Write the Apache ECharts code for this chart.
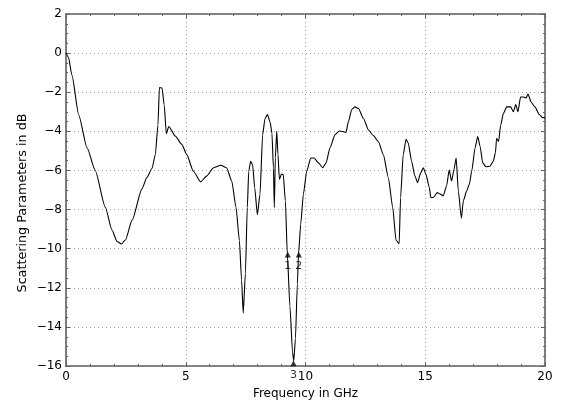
<!DOCTYPE html>
<html>
<head>
<meta charset="utf-8">
<script src="https://cdn.jsdelivr.net/npm/echarts@6/dist/echarts.min.js"></script>
<style>
html,body{margin:0;padding:0;background:#fff;}
#chart{width:561px;height:405px;}
</style>
</head>
<body>
<div id="chart"></div>
<script>
// Frequency (GHz) samples and scattering parameter (dB) values
var freqGHz = [0.0,0.1,0.25,0.53,0.88,1.22,1.64,1.92,2.13,2.31,2.48,2.76,3.17,3.38,3.59,3.73,3.84,3.9,4.01,4.1,4.19,4.29,4.57,4.84,
  5.04,5.32,5.62,5.87,6.15,6.46,6.71,6.92,7.1,7.24,7.33,7.4,7.49,7.57,7.63,7.71,7.79,7.88,7.99,8.1,8.21,8.31,8.41,8.52,8.6,8.66,8.7,8.74,8.8,8.85,8.91,8.99,9.07,9.16,9.24,9.35,9.46,9.51,9.58,9.66,9.71,9.8,9.91,10.05,
  10.22,10.36,10.54,10.72,10.86,11.02,11.23,11.41,11.55,11.69,11.79,11.93,12.07,12.21,12.42,12.63,12.83,13.04,13.25,13.46,13.64,13.78,13.91,13.97,14.08,14.2,14.29,14.43,14.57,14.68,14.81,14.92,15.03,15.17,
  15.23,15.34,15.5,15.64,15.75,15.89,16.0,16.1,16.2,16.29,16.38,16.51,16.59,16.73,16.84,16.94,17.08,17.19,17.29,17.4,17.54,17.7,17.84,17.93,17.98,18.06,18.15,18.26,18.4,18.57,18.68,18.78,18.87,18.98,19.1,19.21,19.29,19.42,19.58,19.76,19.9,20.0];
var sParamDB = [0.0,-0.2,-1.14,-3.16,-4.84,-6.0,-7.87,-9.04,-9.63,-9.76,-9.55,-8.54,-6.94,-6.35,-5.9,-5.18,-3.66,-1.76,-1.78,-2.66,-4.13,-3.75,-4.25,-4.67,
  -5.19,-6.04,-6.58,-6.29,-5.87,-5.73,-5.87,-6.54,-7.89,-9.58,-11.6,-13.29,-11.27,-7.89,-6.04,-5.53,-5.7,-6.88,-8.26,-7.22,-4.18,-3.34,-3.14,-3.51,-4.1,-5.87,-7.89,-5.36,-3.98,-5.19,-6.46,-6.2,-6.2,-7.55,-10.25,-12.95,-15.3,-15.73,-14.6,-11.8,-10.25,-8.74,-7.22,-6.04,
  -5.36,-5.36,-5.61,-5.86,-5.61,-4.85,-4.18,-3.98,-4.01,-4.05,-3.51,-2.88,-2.75,-2.83,-3.34,-3.93,-4.21,-4.52,-5.19,-6.37,-7.88,-9.57,-9.74,-7.38,-5.19,-4.4,-4.6,-5.53,-6.29,-6.62,-6.12,-5.86,-6.2,-6.87,
  -7.38,-7.38,-7.13,-7.21,-7.3,-6.79,-5.98,-6.54,-5.95,-5.36,-7.04,-8.44,-7.55,-7.04,-6.71,-6.03,-4.85,-4.26,-4.77,-5.61,-5.81,-5.78,-5.53,-5.1,-4.35,-4.52,-3.68,-3.09,-2.75,-2.75,-3.0,-2.63,-3.0,-2.24,-2.24,-2.29,-2.09,-2.5,-2.75,-3.14,-3.3,-3.3];

// Marker positions and labels
var markerFreq = [9.26, 9.72, 9.5];
var markerDB = [-10.3, -10.3, -15.85];
var markerLabels = ['1', '2', '3'];

// Axis settings and titles
var xMin = 0, xMax = 20, xStep = 5;
var yMin = -16, yMax = 2, yStep = 2;
var xTitle = 'Frequency in GHz';
var yTitle = 'Scattering Parameters in dB';

var lineData = freqGHz.map(function (f, i) { return [f, sParamDB[i]]; });
var markerData = markerFreq.map(function (f, i) { return { value: [f, markerDB[i]], name: markerLabels[i] }; });

function minusFmt(v) { return String(v).replace('-', '\u2212'); }

var FONT = 'DejaVu Sans';
var frameColor = '#606060';
var gridLine = { show: true, lineStyle: { color: '#a0a0a0', type: [1, 3], width: 1 } };

function baseAxis(extra) {
  var a = {
    type: 'value',
    axisLine: { show: true, onZero: false, lineStyle: { color: frameColor, width: 1.6 } },
    axisTick: { show: true, inside: true, length: 4, lineStyle: { color: frameColor, width: 1 } },
    minorTick: { show: true, length: 2, lineStyle: { color: frameColor, width: 1 } },
    splitLine: { show: false }
  };
  for (var k in extra) a[k] = extra[k];
  return a;
}

var chart = echarts.init(document.getElementById('chart'), null, { renderer: 'canvas' });
chart.setOption({
  animation: false,
  backgroundColor: '#ffffff',
  grid: { left: 66, right: 16, top: 14, bottom: 34, containLabel: false },
  graphic: [{
    type: 'text',
    x: 23, y: 203,
    rotation: Math.PI / 2,
    scaleX: 1.06,
    style: {
      text: yTitle, fill: '#000', font: '12px "DejaVu Sans"',
      align: 'center', verticalAlign: 'middle'
    }
  }],
  xAxis: [
    baseAxis({
      position: 'bottom', min: xMin, max: xMax, interval: xStep,
      minorTick: { show: true, splitNumber: 5, length: 2, lineStyle: { color: frameColor, width: 1 } },
      splitLine: gridLine,
      axisLabel: { color: '#000', fontFamily: FONT, fontSize: 12, margin: 5, formatter: minusFmt },
      name: xTitle, nameLocation: 'middle', nameGap: 20,
      nameTextStyle: { color: '#000', fontFamily: FONT, fontSize: 12 }
    }),
    baseAxis({
      position: 'top', min: xMin, max: xMax, interval: xStep,
      minorTick: { show: true, splitNumber: 5, length: 2, lineStyle: { color: frameColor, width: 1 } },
      axisLabel: { show: false }
    })
  ],
  yAxis: [
    baseAxis({
      position: 'left', min: yMin, max: yMax, interval: yStep,
      minorTick: { show: true, splitNumber: 4, length: 2, lineStyle: { color: frameColor, width: 1 } },
      splitLine: gridLine,
      axisLabel: { color: '#000', fontFamily: FONT, fontSize: 12, margin: 4, formatter: minusFmt }
    }),
    baseAxis({
      position: 'right', min: yMin, max: yMax, interval: yStep,
      minorTick: { show: true, splitNumber: 4, length: 2, lineStyle: { color: frameColor, width: 1 } },
      axisLabel: { show: false }
    })
  ],
  series: [
    {
      type: 'line',
      xAxisIndex: 0, yAxisIndex: 0,
      data: lineData,
      showSymbol: false,
      smooth: 0.2,
      smoothMonotone: 'x',
      lineStyle: { color: '#000', width: 1.1 },
      z: 3
    },
    {
      type: 'scatter',
      xAxisIndex: 0, yAxisIndex: 0,
      data: markerData,
      symbol: 'triangle',
      symbolSize: 6,
      itemStyle: { color: '#000' },
      clip: false,
      label: {
        show: true, position: 'bottom', distance: 3,
        formatter: function (p) { return p.name; },
        color: '#000', fontFamily: FONT, fontSize: 11
      },
      z: 4
    }
  ]
});
</script>
</body>
</html>
